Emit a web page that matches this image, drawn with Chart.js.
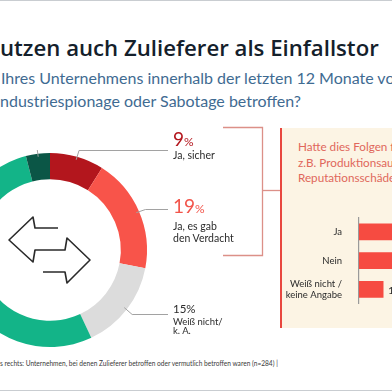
<!DOCTYPE html>
<html>
<head>
<meta charset="utf-8">
<script src="https://cdn.jsdelivr.net/npm/chart.js@4.4.1/dist/chart.umd.min.js"></script>
<style>
  html, body { margin: 0; padding: 0; }
  body { width: 392px; height: 392px; overflow: hidden; position: relative; background: #fff; font-family: Lato, "Open Sans", sans-serif; }
  .abs { position: absolute; white-space: nowrap; }
  .rule { position: absolute; left: 0; width: 392px; height: 1px; background: #c9cdd1; }
  .title { left: 0; top: 35px; font-family: "Open Sans", sans-serif; font-size: 22.2px; line-height: 25px; font-weight: 600; color: #14202b; }
  .sub { left: 1px; font-size: 16px; line-height: 16px; color: #3f6b92; }
  .big { font-size: 19px; line-height: 19px; }
  .big span { font-size: 12px; }
  .small { font-size: 10.5px; line-height: 12px; color: #2b2b2b; }
  #panel { position: absolute; left: 280px; top: 128px; width: 120px; height: 200px; background: #fcf4e4; border-left: 2px solid #e8473f; }
  .ptitle { left: 298px; top: 139px; font-size: 11.7px; line-height: 15.5px; color: #e0675b; }
  .foot { left: 0; top: 359px; font-size: 6.6px; color: #3a3a3a; }
</style>
</head>
<body>
<div class="rule" style="top:0"></div>
<div class="rule" style="top:390px"></div>

<div class="abs title">utzen auch Zulieferer als Einfallstor</div>
<div class="abs sub" style="top:70px">Ihres Unternehmens innerhalb der letzten 12 Monate von</div>
<div class="abs sub" style="top:93px;left:0">ndustriespionage oder Sabotage betroffen?</div>

<div id="panel"></div>
<div class="abs ptitle">Hatte dies Folgen für Ihr Unternehmen,<br>z.B. Produktionsausfälle oder<br>Reputationsschäden?</div>

<svg class="abs" style="left:0;top:0" width="392" height="392">
  <g stroke="#dc9088" stroke-width="1.3" fill="none">
    <polyline points="223,127.5 262.5,127.5 262.5,255.5 223,255.5"/>
    <line x1="262.5" y1="190.5" x2="280" y2="190.5"/>
  </g>
</svg>

<div style="position:absolute;left:-50px;top:150px;width:300px;height:200px">
  <canvas id="ringChart" width="300" height="200"></canvas>
</div>
<div style="position:absolute;left:282px;top:198px;width:200px;height:120px">
  <canvas id="folgenChart" width="200" height="120"></canvas>
</div>

<div class="abs big" style="left:173px;top:129px;color:#b3161d">9<span>%</span></div>
<div class="abs small" style="left:173px;top:149px">Ja, sicher</div>
<div class="abs big" style="left:173px;top:196px;color:#f2554b">19<span>%</span></div>
<div class="abs small" style="left:173px;top:220px">Ja, es gab<br>den Verdacht</div>
<div class="abs" style="left:173px;top:303px;font-size:11.5px;line-height:11.5px;color:#2b2b2b">15%</div>
<div class="abs" style="left:173px;top:316.5px;font-size:9.5px;line-height:9.5px;color:#2b2b2b">Weiß nicht/<br>k. A.</div>

<div class="abs foot">s rechts: Unternehmen, bei denen Zulieferer betroffen oder vermutlich betroffen waren (n=284) |</div>

<script>
// Ring: Zulieferer betroffen? (Anteile in %)
const ringLabels = ['Ja, sicher', 'Ja, es gab den Verdacht', 'Weiß nicht/ k. A.', 'Nein', 'Keine Zulieferer'];
const ringValues = [9, 19, 15, 53, 4];
const ringColors = ['#b3161d', '#f8544a', '#dcdcdc', '#13b488', '#0b5646'];
const ringLeaders = [0, 1, 2, 4];

// Balken: Folgen für das Unternehmen (in %)
const folgenLabels = [['Ja'], ['Nein'], ['Weiß nicht /', 'keine Angabe']];
const folgenValues = [46, 43, 11];

Chart.defaults.font.family = 'Lato, "Open Sans", sans-serif';

// Doppelpfeil in der Mitte des Rings
const arrowPts = [[8, -22], [-15, -22], [-17, -33], [-41, -10], [-17, 12], [-15, 0], [15, 0],
  [17, -12], [40, 10], [17, 33], [15, 22], [-7, 22]];

const ringDecor = {
  id: 'ringDecor',
  afterDatasetsDraw(chart) {
    const ctx = chart.ctx;
    const meta = chart.getDatasetMeta(0);
    const first = meta.data[0];
    const cx = first.x, cy = first.y, r = first.outerRadius;

    ctx.save();
    ctx.strokeStyle = '#a2a2a2';
    ctx.lineWidth = 1;
    ringLeaders.forEach(i => {
      const arc = meta.data[i];
      const mid = (arc.startAngle + arc.endAngle) / 2;
      const x0 = cx + Math.cos(mid) * (r - 3), y0 = cy + Math.sin(mid) * (r - 3);
      const x1 = cx + Math.cos(mid) * (r + 7), y1 = cy + Math.sin(mid) * (r + 7);
      const xEnd = x1 > cx ? cx + r + 21 : 0;
      ctx.beginPath();
      ctx.moveTo(x0, y0);
      ctx.lineTo(x1, Math.round(y1) + 0.5);
      ctx.lineTo(xEnd, Math.round(y1) + 0.5);
      ctx.stroke();
    });

    ctx.strokeStyle = '#2a2a2a';
    ctx.lineWidth = 1.6;
    ctx.lineJoin = 'round';
    ctx.beginPath();
    arrowPts.forEach(([dx, dy], k) => k ? ctx.lineTo(cx + dx, cy + dy) : ctx.moveTo(cx + dx, cy + dy));
    ctx.stroke();
    ctx.restore();
  }
};

new Chart(document.getElementById('ringChart'), {
  type: 'doughnut',
  data: {
    labels: ringLabels,
    datasets: [{ data: ringValues, backgroundColor: ringColors, borderWidth: 0 }]
  },
  options: {
    responsive: false,
    animation: false,
    cutout: '73%',
    layout: { padding: { left: 3, top: 3, bottom: 3, right: 103 } },
    plugins: { legend: { display: false }, tooltip: { enabled: false } }
  },
  plugins: [ringDecor]
});

const valueLabels = {
  id: 'valueLabels',
  afterDatasetsDraw(chart) {
    const ctx = chart.ctx;
    ctx.save();
    ctx.font = '10px Lato, sans-serif';
    ctx.fillStyle = '#2b2b2b';
    ctx.textBaseline = 'middle';
    chart.getDatasetMeta(0).data.forEach((bar, i) => {
      ctx.fillText(folgenValues[i] + '%', bar.x + 5, bar.y + 1);
    });
    ctx.restore();
  }
};

new Chart(document.getElementById('folgenChart'), {
  type: 'bar',
  data: {
    labels: folgenLabels,
    datasets: [{ data: folgenValues, backgroundColor: '#f64b41', barThickness: 16 }]
  },
  options: {
    indexAxis: 'y',
    responsive: false,
    animation: false,
    layout: { padding: { top: 0, bottom: 4, right: 0 } },
    plugins: { legend: { display: false }, tooltip: { enabled: false } },
    scales: {
      x: { display: false, min: 0, max: 56 },
      y: {
        afterFit(scale) { scale.width = 77; },
        grid: { display: false },
        border: { display: true, color: '#9a9a9a', width: 1.2 },
        ticks: { color: '#2b2b2b', padding: 9, font: { size: 9.5, lineHeight: 1.1 } }
      }
    }
  },
  plugins: [valueLabels]
});
</script>
</body>
</html>
